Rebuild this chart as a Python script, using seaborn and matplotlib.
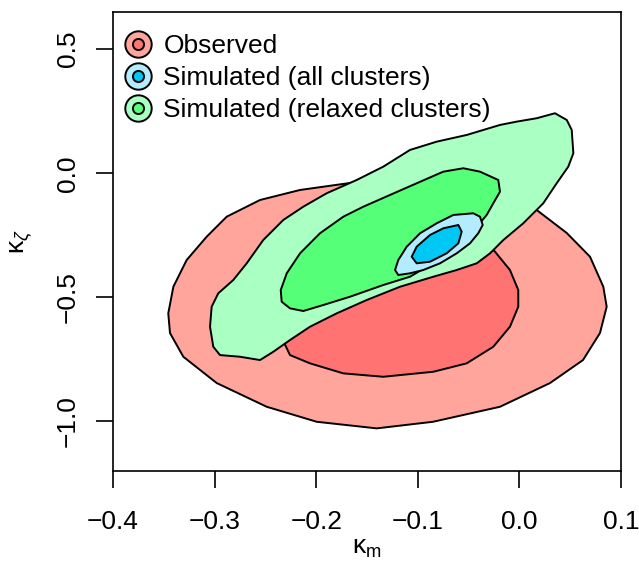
import matplotlib
matplotlib.use("Agg")
import matplotlib.pyplot as plt
from matplotlib.lines import Line2D
from matplotlib.legend_handler import HandlerTuple
import seaborn as sns

# contour outlines (data units: kappa_m, kappa_zeta)
obs_outer_x = [-0.3456, -0.3406, -0.3275, -0.3078, -0.2881, -0.2553, -0.2159, -0.1667,
               -0.1175, -0.0683, -0.0191, 0.0170, 0.0466, 0.0695, 0.0826, 0.0859,
               0.0793, 0.0626, 0.0301, -0.0191, -0.0850, -0.1405, -0.1995, -0.2487,
               -0.2979, -0.3308, -0.3439]
obs_outer_y = [-0.5645, -0.4573, -0.3496, -0.2556, -0.1750, -0.1077, -0.0673, -0.0391,
               -0.0190, -0.0270, -0.0754, -0.1480, -0.2407, -0.3363, -0.4573, -0.5379,
               -0.6440, -0.7528, -0.8456, -0.9411, -1.0016, -1.0282, -1.0016, -0.9411,
               -0.8456, -0.7395, -0.6440]

obs_inner_x = [-0.0240, -0.0093, -0.0011, -0.0011, -0.0093, -0.0257, -0.0519, -0.0847,
               -0.1340, -0.1733, -0.2061, -0.2258, -0.2376, -0.2356, -0.2258, -0.2061,
               -0.1717, -0.1175, -0.0683, -0.0388]
obs_inner_y = [-0.3161, -0.3899, -0.4706, -0.5379, -0.6185, -0.6992, -0.7661, -0.8000,
               -0.8202, -0.8065, -0.7661, -0.7327, -0.6319, -0.5109, -0.4101, -0.3173,
               -0.2367, -0.1883, -0.1964, -0.2488]

rel_outer_x = [0.0350, 0.0466, 0.0515, 0.0531, 0.0481, 0.0367, 0.0235, 0.0038,
               -0.0158, -0.0289, -0.0420, -0.0617, -0.0847, -0.1175, -0.1503, -0.1798,
               -0.2061, -0.2258, -0.2422, -0.2553, -0.2750, -0.2947, -0.3013, -0.3045,
               -0.3029, -0.2964, -0.2816, -0.2684, -0.2521, -0.2324, -0.2127, -0.1897,
               -0.1601, -0.1340, -0.1077, -0.0814, -0.0519, -0.0191, -0.0027, 0.0170]
rel_outer_y = [0.2419, 0.2149, 0.1746, 0.0806, 0.0266, -0.0403, -0.1210, -0.2016,
               -0.2690, -0.3226, -0.3629, -0.3899, -0.4169, -0.4573, -0.5109, -0.5645,
               -0.6185, -0.6722, -0.7194, -0.7528, -0.7395, -0.7327, -0.6992, -0.6185,
               -0.5379, -0.4839, -0.4302, -0.3629, -0.2690, -0.1883, -0.1347, -0.0806,
               -0.0270, 0.0266, 0.0940, 0.1274, 0.1544, 0.1948, 0.2081, 0.2218]

rel_inner_x = [-0.0208, -0.0191, -0.0257, -0.0322, -0.0486, -0.0683, -0.0880, -0.1077,
               -0.1340, -0.1667, -0.1930, -0.2127, -0.2258, -0.2340, -0.2349, -0.2290,
               -0.2159, -0.1963, -0.1733, -0.1536, -0.1274, -0.1011, -0.0749, -0.0552,
               -0.0388]
rel_inner_y = [-0.0270, -0.0742, -0.1210, -0.1681, -0.2488, -0.3173, -0.3698, -0.4169,
               -0.4504, -0.4976, -0.5310, -0.5552, -0.5444, -0.5177, -0.4706, -0.4032,
               -0.3226, -0.2419, -0.1750, -0.1347, -0.0875, -0.0403, 0.0065, 0.0202,
               0.0065]

all_outer_x = [-0.0454, -0.0388, -0.0361, -0.0405, -0.0486, -0.0617, -0.0781, -0.0946,
               -0.1077, -0.1192, -0.1224, -0.1192, -0.1109, -0.0978, -0.0814, -0.0651]
all_outer_y = [-0.1613, -0.1750, -0.2085, -0.2419, -0.2823, -0.3226, -0.3629, -0.3899,
               -0.4032, -0.4101, -0.3899, -0.3496, -0.2960, -0.2419, -0.2016, -0.1681]

all_inner_x = [-0.0601, -0.0568, -0.0601, -0.0716, -0.0880, -0.1011, -0.1060, -0.1011,
               -0.0880, -0.0749]
all_inner_y = [-0.2085, -0.2355, -0.2823, -0.3226, -0.3565, -0.3629, -0.3363, -0.2960,
               -0.2488, -0.2218]

labels = ["Observed", "Simulated (all clusters)", "Simulated (relaxed clusters)"]
light_cols = ["#ffa59c", "#b3ecff", "#aaffc3"]
dark_cols = ["#ff7373", "#00c8f5", "#55ff78"]

FS = 19

sns.set_theme(style="ticks")
plt.rcParams["font.family"] = ["Liberation Sans", "DejaVu Sans"]
plt.rcParams["text.color"] = "black"
plt.rcParams["mathtext.fontset"] = "custom"
plt.rcParams["mathtext.rm"] = "Liberation Sans"
plt.rcParams["mathtext.it"] = "Liberation Sans:italic"

fig = plt.figure(figsize=(6.39, 5.66), dpi=100)
ax = fig.add_axes([113 / 639, 95 / 566, 508 / 639, 459 / 566])

lw = 1.4
# draw order: observed, relaxed, all clusters (as in the reference)
ax.fill(obs_outer_x, obs_outer_y, facecolor=light_cols[0], edgecolor="black", linewidth=lw, joinstyle="round")
ax.fill(obs_inner_x, obs_inner_y, facecolor=dark_cols[0], edgecolor="black", linewidth=lw, joinstyle="round")
ax.fill(rel_outer_x, rel_outer_y, facecolor=light_cols[2], edgecolor="black", linewidth=lw, joinstyle="round")
ax.fill(rel_inner_x, rel_inner_y, facecolor=dark_cols[2], edgecolor="black", linewidth=lw, joinstyle="round")
ax.fill(all_outer_x, all_outer_y, facecolor=light_cols[1], edgecolor="black", linewidth=lw, joinstyle="round")
ax.fill(all_inner_x, all_inner_y, facecolor=dark_cols[1], edgecolor="black", linewidth=lw, joinstyle="round")

ax.set_xlim(-0.4, 0.1)
ax.set_ylim(-1.2, 0.65)
ax.set_xticks([-0.4, -0.3, -0.2, -0.1, 0.0, 0.1])
ax.set_xticklabels(["\u22120.4", "\u22120.3", "\u22120.2", "\u22120.1", "0.0", "0.1"])
ax.set_yticks([-1.0, -0.5, 0.0, 0.5])
ax.set_yticklabels(["\u22121.0", "\u22120.5", "0.0", "0.5"], rotation=90, va="center")

for sp in ax.spines.values():
    sp.set_linewidth(1.2)
    sp.set_color("black")
ax.tick_params(axis="both", direction="out", length=12, width=1.2, color="black",
               labelsize=FS, labelcolor="black")
ax.tick_params(axis="x", pad=16)
ax.tick_params(axis="y", pad=12)

ax.set_xlabel(r"$\mathrm{\kappa_m}$", fontsize=FS, color="black", va="center")
ax.xaxis.set_label_coords(0.5, -0.168)
ax.set_ylabel(r"$\mathrm{\kappa}_{\zeta}$", fontsize=FS, color="black", va="center")
ax.yaxis.set_label_coords(-0.18, 0.5)

handles = []
for lc, dc in zip(light_cols, dark_cols):
    outer = Line2D([], [], linestyle="none", marker="o", markersize=19,
                   markerfacecolor=lc, markeredgecolor="black", markeredgewidth=1.4)
    inner = Line2D([], [], linestyle="none", marker="o", markersize=8,
                   markerfacecolor=dc, markeredgecolor="black", markeredgewidth=1.4)
    handles.append((outer, inner))

ax.legend(handles, labels, handler_map={tuple: HandlerTuple(ndivide=1)},
          loc="upper left", bbox_to_anchor=(0.024, 0.952), frameon=False,
          borderaxespad=0, borderpad=0, handlelength=1.0, handletextpad=0.45,
          labelspacing=0.3, fontsize=FS, labelcolor="black")

fig.savefig("out.png", dpi=100)
